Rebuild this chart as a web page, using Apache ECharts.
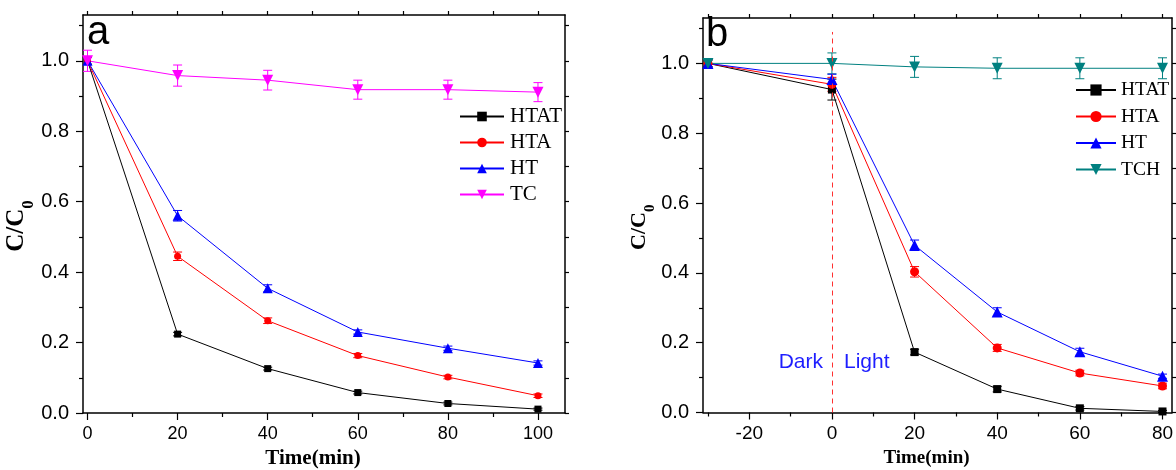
<!DOCTYPE html>
<html>
<head>
<meta charset="utf-8">
<script src="https://cdn.jsdelivr.net/npm/echarts@6/dist/echarts.min.js"></script>
<style>
  html, body { margin: 0; padding: 0; background: #fff; }
  #main { width: 1176px; height: 470px; }
</style>
</head>
<body>
<div id="main"></div>
<script>
// panel a
var timeA = [0, 20, 40, 60, 80, 100];
var htatA = [1.0, 0.224, 0.126, 0.058, 0.027, 0.011];
var htaA  = [1.0, 0.445, 0.262, 0.163, 0.102, 0.049];
var htA   = [1.0, 0.560, 0.354, 0.230, 0.184, 0.142];
var tcA   = [1.0, 0.958, 0.945, 0.918, 0.918, 0.911];
var htatErrA = [0.01, 0.005, 0.004, 0.004, 0.004, 0.003];
var htaErrA  = [0.01, 0.012, 0.008, 0.006, 0.005, 0.005];
var htErrA   = [0.01, 0.015, 0.010, 0.006, 0.006, 0.006];
var tcErrA   = [0.03, 0.030, 0.028, 0.027, 0.027, 0.027];

// panel b
var timeB = [-30, 0, 20, 40, 60, 80];
var htatB = [1.0, 0.925, 0.173, 0.067, 0.012, 0.003];
var htaB  = [1.0, 0.940, 0.403, 0.185, 0.113, 0.076];
var htB   = [1.0, 0.954, 0.479, 0.288, 0.174, 0.104];
var tchB  = [1.0, 1.000, 0.990, 0.986, 0.986, 0.986];
var htatErrB = [0.01, 0.030, 0.008, 0.008, 0.005, 0.003];
var htaErrB  = [0.01, 0.020, 0.015, 0.010, 0.008, 0.008];
var htErrB   = [0.01, 0.015, 0.015, 0.012, 0.010, 0.006];
var tchErrB  = [0.01, 0.030, 0.030, 0.030, 0.030, 0.030];

// ticks
var xMajorA = [0, 20, 40, 60, 80, 100];
var xMinorA = [10, 30, 50, 70, 90];
var xMajorB = [-20, 0, 20, 40, 60, 80];
var xMinorB = [-30, -10, 10, 30, 50, 70];
var yMajor = [0, 0.2, 0.4, 0.6, 0.8, 1.0];
var yMinor = [0.1, 0.3, 0.5, 0.7, 0.9, 1.1];

var sans = 'Liberation Sans, Arial, sans-serif';
var serif = 'Liberation Serif, Times New Roman, serif';

function pairs(x, y) {
    return x.map(function (t, i) { return [t, y[i]]; });
}
function errData(x, y, e) {
    return x.map(function (t, i) { return [t, y[i] - e[i], y[i] + e[i]]; });
}
function errSeries(x, y, e, color, xi, yi) {
    return {
        type: 'custom',
        xAxisIndex: xi, yAxisIndex: yi,
        silent: true,
        z: 1,
        data: errData(x, y, e),
        renderItem: function (params, api) {
            var lo = api.coord([api.value(0), api.value(1)]);
            var hi = api.coord([api.value(0), api.value(2)]);
            var st = {stroke: color, lineWidth: 1};
            return {
                type: 'group',
                children: [
                    {type: 'line', shape: {x1: lo[0], y1: lo[1], x2: hi[0], y2: hi[1]}, style: st},
                    {type: 'line', shape: {x1: lo[0] - 4.5, y1: lo[1], x2: lo[0] + 4.5, y2: lo[1]}, style: st},
                    {type: 'line', shape: {x1: hi[0] - 4.5, y1: hi[1], x2: hi[0] + 4.5, y2: hi[1]}, style: st}
                ]
            };
        }
    };
}
function lineSeries(name, x, y, color, symbol, size, xi, yi, rot) {
    return {
        name: name, type: 'line',
        xAxisIndex: xi, yAxisIndex: yi,
        data: pairs(x, y),
        symbol: symbol, symbolSize: size, symbolRotate: rot || 0,
        showAllSymbol: true,
        itemStyle: {color: color},
        lineStyle: {color: color, width: 1},
        z: 3
    };
}

function xAxes(grid, min, max, major, minor, fs, nameFs) {
    var line = {show: true, onZero: false, lineStyle: {color: '#000', width: 1.5}};
    return [
        {type: 'value', gridIndex: grid, position: 'bottom', min: min, max: max,
            axisLine: line, splitLine: {show: false},
            axisTick: {customValues: major, length: 7, inside: false, lineStyle: {color: '#000', width: 1.2}},
            axisLabel: {customValues: major, margin: 12, fontSize: fs, fontFamily: sans, color: '#000'},
            name: 'Time(min)', nameLocation: 'middle', nameGap: 33,
            nameTextStyle: {fontFamily: serif, fontWeight: 'bold', fontSize: nameFs, color: '#000', padding: [0, 22, 0, 0]}},
        {type: 'value', gridIndex: grid, position: 'bottom', min: min, max: max,
            axisLine: {show: false, onZero: false}, splitLine: {show: false},
            axisTick: {customValues: minor, length: 4, inside: false, lineStyle: {color: '#000', width: 1.2}},
            axisLabel: {show: false}},
        {type: 'value', gridIndex: grid, position: 'top', min: min, max: max,
            axisLine: line, splitLine: {show: false},
            axisTick: {customValues: major.concat(minor), length: 4, inside: false, lineStyle: {color: '#000', width: 1.2}},
            axisLabel: {show: false}}
    ];
}
function yAxes(grid, fs, nameFs, subFs) {
    var line = {show: true, onZero: false, lineStyle: {color: '#000', width: 1.5}};
    return [
        {type: 'value', gridIndex: grid, position: 'left', min: 0, max: 1.13,
            axisLine: line, splitLine: {show: false},
            axisTick: {customValues: yMajor, length: 7, inside: false, lineStyle: {color: '#000', width: 1.2}},
            axisLabel: {customValues: yMajor, margin: 14, fontSize: fs, fontFamily: sans, color: '#000',
                formatter: function (v) { return v.toFixed(1); }},
            name: '{m|C/C}{s|0}', nameLocation: 'middle', nameGap: 38,
            nameTextStyle: {padding: [0, 24, 0, 0], rich: {
                m: {fontFamily: serif, fontWeight: 'bold', fontSize: nameFs, color: '#000', lineHeight: nameFs,
                    verticalAlign: 'bottom', padding: [0, 0, Math.round(nameFs * 0.3), 0]},
                s: {fontFamily: serif, fontWeight: 'bold', fontSize: subFs, color: '#000', lineHeight: subFs,
                    verticalAlign: 'bottom'}
            }}},
        {type: 'value', gridIndex: grid, position: 'left', min: 0, max: 1.13,
            axisLine: {show: false, onZero: false}, splitLine: {show: false},
            axisTick: {customValues: yMinor, length: 4, inside: false, lineStyle: {color: '#000', width: 1.2}},
            axisLabel: {show: false}},
        {type: 'value', gridIndex: grid, position: 'right', min: 0, max: 1.13,
            axisLine: line, splitLine: {show: false},
            axisTick: {customValues: yMajor.concat(yMinor), length: 4, inside: false, lineStyle: {color: '#000', width: 1.2}},
            axisLabel: {show: false}}
    ];
}

var option = {
    animation: false,
    grid: [
        {left: 83, top: 15, width: 482, height: 398, outerBoundsMode: 'none'},
        {left: 703, top: 18, width: 469, height: 394.5, outerBoundsMode: 'none'}
    ],
    xAxis: xAxes(0, -1, 106, xMajorA, xMinorA, 18, 21).concat(xAxes(1, -31.2, 82.3, xMajorB, xMinorB, 19, 19)),
    yAxis: yAxes(0, 20, 25, 17).concat(yAxes(1, 20, 22, 15)),
    legend: [
        {left: 454, top: 101, orient: 'vertical', itemWidth: 44, itemHeight: 12, itemGap: 5,
            selectedMode: false, data: ['HTAT', 'HTA', 'HT', 'TC'],
            textStyle: {fontFamily: serif, fontSize: 21, color: '#000', padding: [0, 0, 0, 1]}},
        {left: 1070, top: 75, orient: 'vertical', itemWidth: 40, itemHeight: 14, itemGap: 6.5,
            selectedMode: false, data: ['HTAT ', 'HTA ', 'HT ', 'TCH'],
            textStyle: {fontFamily: serif, fontSize: 19.5, color: '#000'}}
    ],
    graphic: [
        {type: 'text', left: 87, top: 13, style: {text: 'a', font: '40px ' + sans, fill: '#000'}},
        {type: 'text', left: 706, top: 15, style: {text: 'b', font: '40px ' + sans, fill: '#000'}},
        {type: 'text', right: 1176 - 823, top: 352, style: {text: 'Dark', font: '21px ' + sans, fill: '#1e1eff'}},
        {type: 'text', left: 844, top: 352, style: {text: 'Light', font: '21px ' + sans, fill: '#1e1eff'}}
    ],
    series: [
        errSeries(timeA, tcA, tcErrA, '#ff00ff', 0, 0),
        errSeries(timeA, htA, htErrA, '#0000ff', 0, 0),
        errSeries(timeA, htaA, htaErrA, '#ff0000', 0, 0),
        errSeries(timeA, htatA, htatErrA, '#000000', 0, 0),
        lineSeries('HTAT', timeA, htatA, '#000000', 'rect', 7, 0, 0),
        lineSeries('HTA', timeA, htaA, '#ff0000', 'circle', 7, 0, 0),
        lineSeries('HT', timeA, htA, '#0000ff', 'triangle', 10, 0, 0),
        lineSeries('TC', timeA, tcA, '#ff00ff', 'triangle', 11, 0, 0, 180),

        errSeries(timeB, tchB, tchErrB, '#008080', 3, 3),
        errSeries(timeB, htB, htErrB, '#0000ff', 3, 3),
        errSeries(timeB, htaB, htaErrB, '#ff0000', 3, 3),
        errSeries(timeB, htatB, htatErrB, '#000000', 3, 3),
        lineSeries('HTAT ', timeB, htatB, '#000000', 'rect', 8, 3, 3),
        lineSeries('HTA ', timeB, htaB, '#ff0000', 'circle', 9, 3, 3),
        lineSeries('HT ', timeB, htB, '#0000ff', 'triangle', 11, 3, 3),
        lineSeries('TCH', timeB, tchB, '#008080', 'triangle', 11, 3, 3, 180),
        {
            type: 'line', xAxisIndex: 3, yAxisIndex: 3, data: [], silent: true,
            markLine: {
                silent: true, symbol: 'none', label: {show: false},
                lineStyle: {color: '#ff3030', type: [5, 4], width: 1},
                data: [[{coord: [0, 0]}, {coord: [0, 1.09]}]]
            }
        }
    ]
};

var chart = echarts.init(document.getElementById('main'));
chart.setOption(option);
</script>
</body>
</html>
